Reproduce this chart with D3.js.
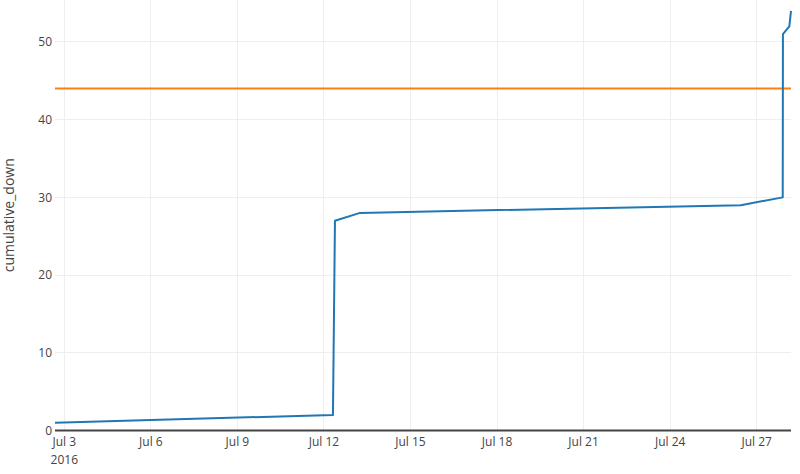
<!DOCTYPE html>
<html>
<head>
<meta charset="utf-8">
<script src="https://cdn.jsdelivr.net/npm/d3@7"></script>
<style>
html,body{margin:0;padding:0;background:#fff;}
svg{display:block;font-family:"Open Sans",verdana,arial,sans-serif;}
</style>
</head>
<body>
<svg id="chart" width="800" height="474"></svg>
<script>
// Data
const dates = [
  "2016-07-02T16:16", "2016-07-12T07:30", "2016-07-12T09:10", "2016-07-13T06:00",
  "2016-07-26T10:50", "2016-07-27T21:40", "2016-07-27T21:50", "2016-07-28T03:10",
  "2016-07-28T04:33"
];
const cumulativeDown = [1, 2, 27, 28, 29, 30, 51, 52, 54];
const thresholdValue = 44;
const xTickDates = ["2016-07-03","2016-07-06","2016-07-09","2016-07-12","2016-07-15","2016-07-18","2016-07-21","2016-07-24","2016-07-27"];
const xTickLabels = ["Jul 3","Jul 6","Jul 9","Jul 12","Jul 15","Jul 18","Jul 21","Jul 24","Jul 27"];
const yTicks = [0, 10, 20, 30, 40, 50];
const yTitle = "cumulative_down";

const parse = d3.utcParse("%Y-%m-%dT%H:%M");
const parseDay = d3.utcParse("%Y-%m-%d");
const pts = dates.map((d, i) => ({t: parse(d), v: cumulativeDown[i]}));

const svg = d3.select("#chart");
const L = 55, R = 791, T = 0, B = 430.5;

const x = d3.scaleUtc().domain(d3.extent(pts, d => d.t)).range([L, R]);
const y = d3.scaleLinear().domain([0, 55.4]).range([B, T]);

const g = svg.append("g");

// grid
g.selectAll(".vg").data(xTickDates).enter().append("line")
  .attr("x1", d => x(parseDay(d))).attr("x2", d => x(parseDay(d)))
  .attr("y1", T).attr("y2", B)
  .attr("stroke", "#eee").attr("stroke-width", 1).attr("shape-rendering", "crispEdges");
g.selectAll(".hg").data(yTicks.filter(v => v > 0)).enter().append("line")
  .attr("x1", L).attr("x2", R)
  .attr("y1", d => y(d)).attr("y2", d => y(d))
  .attr("stroke", "#eee").attr("stroke-width", 1).attr("shape-rendering", "crispEdges");

// zero line
g.append("line").attr("x1", L).attr("x2", R).attr("y1", y(0)).attr("y2", y(0))
  .attr("stroke", "#444").attr("stroke-width", 2);

// threshold line
g.append("line").attr("x1", L).attr("x2", R)
  .attr("y1", y(thresholdValue)).attr("y2", y(thresholdValue))
  .attr("stroke", "#ff7f0e").attr("stroke-width", 2);

// data line
const line = d3.line().x(d => x(d.t)).y(d => y(d.v));
g.append("path").datum(pts).attr("d", line)
  .attr("fill", "none").attr("stroke", "#1f77b4").attr("stroke-width", 2)
  .attr("stroke-linejoin", "round");

// y tick labels
g.selectAll(".yl").data(yTicks).enter().append("text")
  .attr("x", L - 3).attr("y", d => y(d)).attr("dy", "0.35em")
  .attr("text-anchor", "end").attr("font-size", 12).attr("fill", "#444")
  .text(d => d);

// x tick labels
g.selectAll(".xl").data(xTickDates).enter().append("text")
  .attr("x", d => x(parseDay(d))).attr("y", 446)
  .attr("text-anchor", "middle").attr("font-size", 12).attr("fill", "#444")
  .text((d, i) => xTickLabels[i]);
g.append("text").attr("x", x(parseDay(xTickDates[0]))).attr("y", 464)
  .attr("text-anchor", "middle").attr("font-size", 12).attr("fill", "#444")
  .text("2016");

// y title
g.append("text").attr("transform", `translate(14,${(T + B) / 2}) rotate(-90)`)
  .attr("text-anchor", "middle").attr("font-size", 14).attr("fill", "#444")
  .text(yTitle);
</script>
</body>
</html>
